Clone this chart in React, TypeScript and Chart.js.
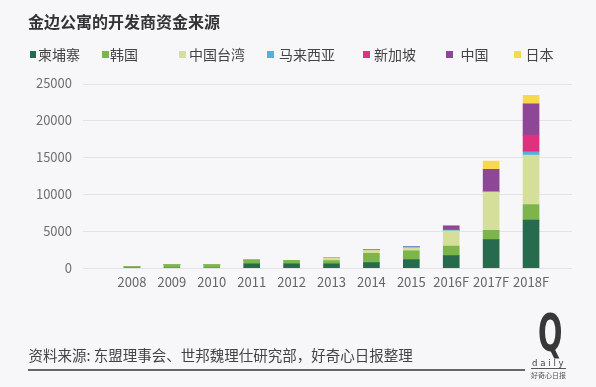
import React, { useEffect, useRef } from "react";
import { Chart, registerables } from "chart.js";

Chart.register(...registerables);

// ---- data ----
const categories = ["2008", "2009", "2010", "2011", "2012", "2013", "2014", "2015", "2016F", "2017F", "2018F"];
const seriesNames = ["柬埔寨", "韩国", "中国台湾", "马来西亚", "新加坡", "中国", "日本"];
const cambodia = [0, 0, 0, 580, 580, 580, 720, 1150, 1680, 3840, 6500];
const korea = [200, 450, 450, 480, 450, 410, 1280, 1170, 1300, 1260, 2100];
const taiwan = [0, 0, 0, 0, 0, 360, 380, 430, 2070, 5150, 6700];
const malaysia = [0, 0, 0, 0, 0, 0, 120, 150, 80, 150, 450];
const singapore = [0, 0, 0, 0, 0, 0, 0, 0, 0, 0, 2250];
const china = [0, 0, 0, 0, 0, 0, 0, 0, 600, 2970, 4250];
const japan = [0, 0, 0, 0, 0, 0, 0, 0, 0, 1130, 1150];
const yTicks = [0, 5000, 10000, 15000, 20000, 25000];

const seriesValues = [cambodia, korea, taiwan, malaysia, singapore, china, japan];
const seriesColors = ["#276b4e", "#7cb64a", "#d5df9a", "#4fb0e2", "#e0317f", "#8e4797", "#f6d94c"];

// legend layout (page px)
const legendMarkerLeft = [29.5, 102, 179, 267, 363, 446, 514];
const legendTextLeft = [38, 110, 189, 279, 374, 460.5, 525.5];

const BG = "#f7f7f9";
const FONT = "'Noto Sans CJK SC', 'Noto Sans', sans-serif";

const fullGrid = {
  id: "fullGrid",
  beforeDatasetsDraw(chart: any) {
    const { ctx, chartArea } = chart;
    const y = chart.scales.y;
    ctx.save();
    ctx.strokeStyle = "#e3e3e6";
    ctx.lineWidth = 1;
    y.ticks.forEach((t: any) => {
      const py = Math.round(y.getPixelForValue(t.value)) + 0.5;
      ctx.beginPath();
      ctx.moveTo(chartArea.left - 29, py);
      ctx.lineTo(chartArea.right + 21, py);
      ctx.stroke();
    });
    ctx.restore();
  },
};

function ChartCanvas() {
  const ref = useRef<HTMLCanvasElement | null>(null);
  useEffect(() => {
    if (!ref.current) return;
    const chart = new Chart(ref.current, {
      type: "bar",
      data: {
        labels: categories,
        datasets: seriesNames.map((name, i) => ({
          label: name,
          data: seriesValues[i],
          backgroundColor: seriesColors[i],
          borderWidth: 0,
          barThickness: 16,
        })),
      },
      options: {
        animation: false,
        responsive: false,
        maintainAspectRatio: false,
        devicePixelRatio: 1,
        layout: { padding: { left: 0, right: 45, top: 83.5, bottom: 89 } },
        plugins: { legend: { display: false }, tooltip: { enabled: false }, title: { display: false } },
        scales: {
          x: {
            stacked: true,
            grid: { display: false, drawTicks: false },
            border: { display: false },
            ticks: {
              padding: 6,
              color: "#666",
              font: { family: FONT, size: 13 },
              maxRotation: 0,
              minRotation: 0,
              autoSkip: false,
            },
            afterFit: (s: any) => {
              s.height = 30;
            },
          },
          y: {
            stacked: true,
            min: 0,
            max: 25000,
            afterBuildTicks: (s: any) => {
              s.ticks = yTicks.map((v) => ({ value: v }));
            },
            grid: { display: false, drawTicks: false },
            border: { display: false },
            ticks: {
              padding: 40,
              color: "#707070",
              font: { family: FONT, size: 13 },
              callback: (v: any) => String(v),
            },
            afterFit: (s: any) => {
              s.width = 112;
            },
          },
        },
      } as any,
      plugins: [fullGrid],
    });
    return () => chart.destroy();
  }, []);
  return (
    <canvas
      ref={ref}
      width={596}
      height={387}
      style={{ position: "absolute", left: 0, top: 0, width: 596, height: 387 }}
    />
  );
}

export default function App() {
  return (
    <div
      style={{
        position: "absolute",
        left: 0,
        top: 0,
        width: 596,
        height: 387,
        background: BG,
        fontFamily: FONT,
        overflow: "hidden",
      }}
    >
      <ChartCanvas />
      <div
        style={{
          position: "absolute",
          left: 28,
          top: 11,
          fontSize: 16,
          lineHeight: "20px",
          fontWeight: 700,
          color: "#333",
          whiteSpace: "nowrap",
        }}
      >
        金边公寓的开发商资金来源
      </div>

      {seriesNames.map((name, i) => (
        <React.Fragment key={name}>
          <div
            style={{
              position: "absolute",
              left: legendMarkerLeft[i],
              top: 51,
              width: 6.5,
              height: 6.5,
              background: seriesColors[i],
            }}
          />
          <div
            style={{
              position: "absolute",
              left: legendTextLeft[i],
              top: 45,
              fontSize: 14,
              lineHeight: "18px",
              color: "#444",
              whiteSpace: "nowrap",
            }}
          >
            {name}
          </div>
        </React.Fragment>
      ))}

      <div
        style={{
          position: "absolute",
          left: 28.5,
          top: 345.5,
          fontSize: 14.5,
          lineHeight: "18px",
          color: "#444",
          whiteSpace: "nowrap",
        }}
      >
        资料来源: 东盟理事会、世邦魏理仕研究部，好奇心日报整理
      </div>
      <div style={{ position: "absolute", left: 28, top: 369, width: 497, height: 1.5, background: "#666" }} />

      <div
        style={{
          position: "absolute",
          left: 538,
          top: 307,
          fontFamily: "'Liberation Sans Narrow', 'DejaVu Sans Condensed', sans-serif",
          fontWeight: 700,
          fontSize: 40,
          lineHeight: "40px",
          color: "#383838",
          transform: "scale(0.8, 1.3)",
          transformOrigin: "left top",
        }}
      >
        Q
      </div>
      <div
        style={{
          position: "absolute",
          left: 531,
          top: 358,
          fontFamily: "'DejaVu Sans Condensed', sans-serif",
          fontSize: 9.5,
          lineHeight: "10px",
          letterSpacing: 2.8,
          color: "#444",
          borderBottom: "1px solid #555",
          paddingLeft: 1,
        }}
      >
        daily
      </div>
      <div
        style={{
          position: "absolute",
          left: 531,
          top: 371,
          fontSize: 7,
          lineHeight: "8px",
          color: "#555",
          whiteSpace: "nowrap",
        }}
      >
        好奇心日报
      </div>
    </div>
  );
}
